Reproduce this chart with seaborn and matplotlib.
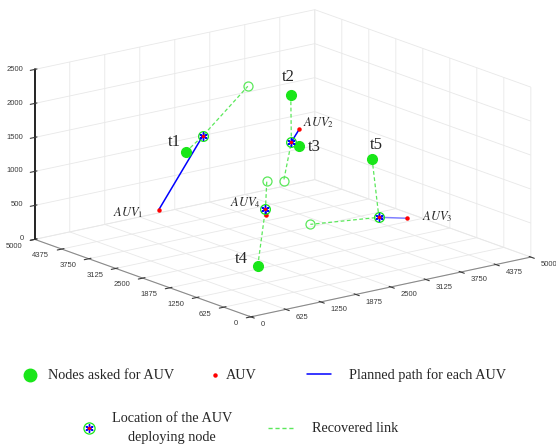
import numpy as np
import pandas as pd
import seaborn as sns
import matplotlib
matplotlib.use("Agg")
import matplotlib.pyplot as plt
from matplotlib.lines import Line2D
from mpl_toolkits.mplot3d import proj3d

# ---------------- data ----------------
node_names = ["t1", "t2", "t3", "t4", "t5"]
node_x = [1871, 3548, 3124, 1449, 3749]
node_y = [3931, 3674, 2924, 1718, 2053]
node_z = [1200, 1800, 1300, 100, 1200]

auv_names = ["$AUV_1$", "$AUV_2$", "$AUV_3$", "$AUV_4$"]
auv_x = [1466, 3227, 3975, 2704]
auv_y = [4029, 3057, 1542, 3142]
auv_z = [400, 1500, 400, 300]

dep_x = [1922, 2944, 3692, 2696]
dep_y = [3605, 2877, 1821, 3155]
dep_z = [1500, 1400, 400, 400]

link_node = ["t1", "t2", "t5", "t4"]
rec_x = [2920, 3348, 3129, 3158]
rec_y = [3854, 3578, 2678, 3723]
rec_z = [2000, 600, 200, 600]

xy_ticks = [0, 625, 1250, 1875, 2500, 3125, 3750, 4375, 5000]
z_ticks = [0, 500, 1000, 1500, 2000, 2500]

# ---------------- style ----------------
sns.set_style("white")
plt.rcParams["font.family"] = ["Liberation Sans", "DejaVu Sans"]
plt.rcParams["mathtext.fontset"] = "stix"
plt.rcParams["grid.color"] = "#e8e8e8"
plt.rcParams["grid.linewidth"] = 0.6
plt.rcParams["axes3d.automargin"] = False

green = "#19e619"
rec_green = "#5be85b"
blue = "#0000ff"
red = "#ff0000"

fig = plt.figure(figsize=(5.56, 4.44), dpi=100)
ax = fig.add_axes([0.0, 0.2215, 1.0, 0.8], projection="3d", proj_type="ortho",
                  computed_zorder=False)
ax.view_init(elev=16.06, azim=-127.65)
ax.set_box_aspect((1, 1, 0.5), zoom=1.45)
ax.set_xlim(0, 5000)
ax.set_ylim(0, 5000)
ax.set_zlim(0, 2500)
ax.set_xticks(xy_ticks)
ax.set_yticks(xy_ticks)
ax.set_zticks(z_ticks)
ax.set_xticklabels([str(t) for t in xy_ticks], ha="left", va="bottom")
ax.set_yticklabels([str(t) for t in xy_ticks], ha="right", va="bottom")
ax.set_zticklabels([str(t) for t in z_ticks], ha="right", va="center")
ax.tick_params(labelsize=5.5, colors="#3a3a3a", pad=-2)
ax.zaxis.set_tick_params(pad=-5)

for axis in (ax.xaxis, ax.yaxis, ax.zaxis):
    axis.set_pane_color((1, 1, 1, 0))
    axis.pane.set_edgecolor("#e8e8e8")
    axis.line.set_color("#8a8a8a")
    axis.line.set_linewidth(0.8)
ax.zaxis.line.set_color("black")
ax.zaxis.line.set_linewidth(1.2)
ax.grid(True)

pos = dict(zip(node_names, zip(node_x, node_y, node_z)))

# recovered links
for i in range(len(auv_x)):
    nx, ny, nz = pos[link_node[i]]
    ax.plot([nx, dep_x[i], rec_x[i]], [ny, dep_y[i], rec_y[i]], [nz, dep_z[i], rec_z[i]],
            color=rec_green, lw=0.9, ls=(0, (3, 2)), zorder=2)

# planned paths
for i in range(len(auv_x)):
    ax.plot([auv_x[i], dep_x[i]], [auv_y[i], dep_y[i]], [auv_z[i], dep_z[i]],
            color=blue, lw=1.1, alpha=(0.5 if i == 2 else 1.0), zorder=3)

# recovered (other) nodes
ax.plot(rec_x, rec_y, rec_z, ls="none", marker="o", ms=6.5, mfc="none",
        mec=rec_green, mew=0.9, zorder=4)

# asked nodes
ax.plot(node_x, node_y, node_z, ls="none", marker="o", ms=7, color=green, zorder=5)

# AUVs
ax.plot(auv_x, auv_y, auv_z, ls="none", marker="o", ms=2.2, color=red, zorder=6)

# deployment locations
ax.plot(dep_x, dep_y, dep_z, ls="none", marker="o", ms=7, mfc="none", mec=green, mew=0.9, zorder=6)
ax.plot(dep_x, dep_y, dep_z, ls="none", marker=(6, 2, 0), ms=6, mec=blue, mew=1.0, zorder=7)
ax.plot(dep_x, dep_y, dep_z, ls="none", marker="o", ms=1.5, color=red, zorder=8)

# labels: project the 3-D points with the axes' own projection, then annotate in 2-D
fig.canvas.draw()
M = ax.get_proj()

node_off = {"t1": (-5, 10, "right"), "t2": (-2, 18, "center"), "t3": (8, -1, "left"),
            "t4": (-10, 7, "right"), "t5": (4, 14, "center")}
for n, x, y, z in zip(node_names, node_x, node_y, node_z):
    dx, dy, ha = node_off[n]
    px, py, _ = proj3d.proj_transform(x, y, z, M)
    ax.annotate(n, (px, py), xytext=(dx, dy), textcoords="offset pixels", ha=ha,
                va="center", fontsize=12, family="Liberation Serif", zorder=10)

auv_off = [(-15, -3, "right", "auv"), (4, 6, "left", "auv"), (15, 2, "left", "auv"), (-5, 6, "right", "dep")]
for i, name in enumerate(auv_names):
    dx, dy, ha, ref = auv_off[i]
    if ref == "auv":
        x, y, z = auv_x[i], auv_y[i], auv_z[i]
    else:
        x, y, z = dep_x[i], dep_y[i], dep_z[i]
    px, py, _ = proj3d.proj_transform(x, y, z, M)
    ax.annotate(name, (px, py), xytext=(dx, dy), textcoords="offset pixels", ha=ha,
                va="center", fontsize=9, zorder=10)

# ---------------- legend (figure coordinates, pixels) ----------------
W, H = 556, 444
def fx(px):
    return px / W
def fy(py):
    return 1 - py / H

lf = dict(family="Liberation Serif", fontsize=10.3, va="center", ha="left")
fig.add_artist(Line2D([fx(30)], [fy(375)], marker="o", ms=9, color=green, ls="none"))
fig.text(fx(48), fy(375), "Nodes asked for AUV", **lf)
fig.add_artist(Line2D([fx(215)], [fy(375)], marker="o", ms=2.2, color=red, ls="none"))
fig.text(fx(226), fy(375), "AUV", **lf)
fig.add_artist(Line2D([fx(307), fx(331)], [fy(374), fy(374)], color=blue, lw=1.1))
fig.text(fx(349), fy(375), "Planned path for each AUV", **lf)

fig.add_artist(Line2D([fx(89)], [fy(428)], marker="o", ms=8, mfc="none", mec=green, mew=0.9, ls="none"))
fig.add_artist(Line2D([fx(89)], [fy(428)], marker=(6, 2, 0), ms=6, mec=blue, mew=1.0, ls="none"))
fig.add_artist(Line2D([fx(89)], [fy(428)], marker="o", ms=1.5, color=red, ls="none"))
fig.text(fx(172), fy(427.5), "Location of the AUV\ndeploying node", family="Liberation Serif",
         fontsize=10.3, va="center", ha="center", multialignment="center", linespacing=1.6)
fig.add_artist(Line2D([fx(268), fx(294)], [fy(428), fy(428)], color=rec_green, lw=1.0, ls=(0, (3, 2))))
fig.text(fx(312), fy(428), "Recovered link", **lf)

fig.savefig("out.png", dpi=100)
